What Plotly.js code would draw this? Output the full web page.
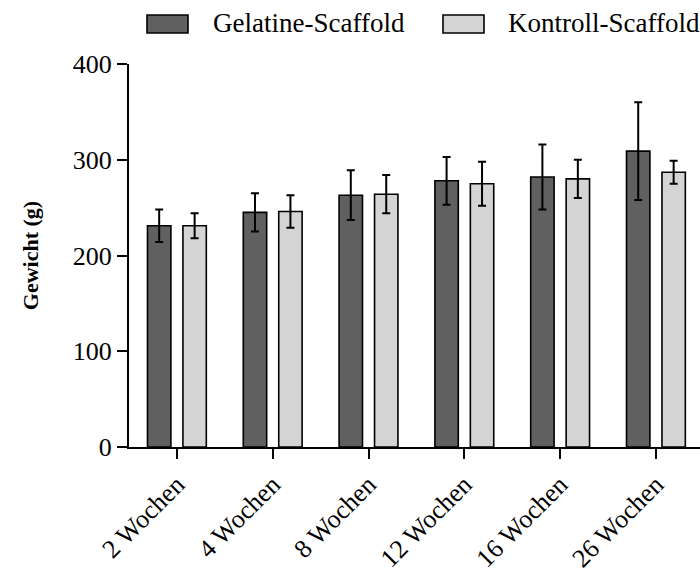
<!DOCTYPE html>
<html>
<head>
<meta charset="utf-8">
<script src="https://cdn.plot.ly/plotly-3.0.1.min.js"></script>
<style>html,body{margin:0;padding:0;background:#fff;}#chart{width:700px;height:580px;}</style>
</head>
<body>
<div id="chart"></div>
<script>
const categories = ["2 Wochen", "4 Wochen", "8 Wochen", "12 Wochen", "16 Wochen", "26 Wochen"];
const seriesNames = ["Gelatine-Scaffold", "Kontroll-Scaffold"];
const gelatineMean = [231, 245, 263, 278, 282, 309];
const gelatineErr = [17, 20, 26, 25, 34, 51];
const kontrollMean = [231, 246, 264, 275, 280, 287];
const kontrollErr = [13, 17, 20, 23, 20, 12];
const yTicks = [0, 100, 200, 300, 400];
const colors = ["#606060", "#d4d4d4"];

const FONT = "Liberation Serif";

function barTrace(name, y, err, color) {
  return {
    type: "bar", name: name, x: categories, y: y,
    marker: {color: color, line: {color: "#000", width: 1.6}},
    error_y: {type: "data", array: err, visible: true, color: "#000", thickness: 2, width: 4},
    showlegend: false
  };
}

const data = [
  barTrace(seriesNames[0], gelatineMean, gelatineErr, colors[0]),
  barTrace(seriesNames[1], kontrollMean, kontrollErr, colors[1])
];

// manual legend (boxes + labels) positioned in paper coords
const L = 129, R = 700, T = 64, B = 447;
const px = v => (v - L) / (R - L);
const py = v => (B - v) / (B - T);
const legendItems = [
  {x0: 147, x1: 188, tx: 211},
  {x0: 443, x1: 484, tx: 506}
];
const shapes = legendItems.map((it, i) => ({
  type: "rect", xref: "paper", yref: "paper",
  x0: px(it.x0), x1: px(it.x1), y0: py(33), y1: py(15),
  fillcolor: colors[i], line: {color: "#000", width: 1.6}
}));
const annotations = legendItems.map((it, i) => ({
  xref: "paper", yref: "paper", x: px(it.tx), y: py(23),
  xanchor: "left", yanchor: "middle", showarrow: false,
  text: seriesNames[i], font: {family: FONT, size: 27, color: "#000"}
}));

const layout = {
  width: 700, height: 580,
  margin: {l: L, r: 0, t: T, b: 580 - B},
  paper_bgcolor: "#fff", plot_bgcolor: "#fff",
  barmode: "group", bargap: 0.26, bargroupgap: 0.34,
  font: {family: FONT, size: 26, color: "#000"},
  xaxis: {
    range: [-0.5, 5.46], showgrid: false, zeroline: false,
    showline: true, linecolor: "#000", linewidth: 2,
    ticks: "outside", ticklen: 10, tickwidth: 2, tickcolor: "#000",
    tickangle: -45, tickfont: {family: FONT, size: 26, color: "#000"}
  },
  yaxis: {
    range: [0, 400], tickvals: yTicks, ticktext: yTicks.map(String),
    showgrid: false, zeroline: false,
    showline: true, linecolor: "#000", linewidth: 2,
    ticks: "outside", ticklen: 10, tickwidth: 2, tickcolor: "#000",
    tickfont: {family: FONT, size: 26, color: "#000"},
    title: {text: "<b>Gewicht (g)</b>", font: {family: FONT, size: 22, color: "#000"}, standoff: 28}
  },
  shapes: shapes,
  annotations: annotations,
  showlegend: false
};

Plotly.newPlot("chart", data, layout, {displayModeBar: false, staticPlot: true});
</script>
</body>
</html>
